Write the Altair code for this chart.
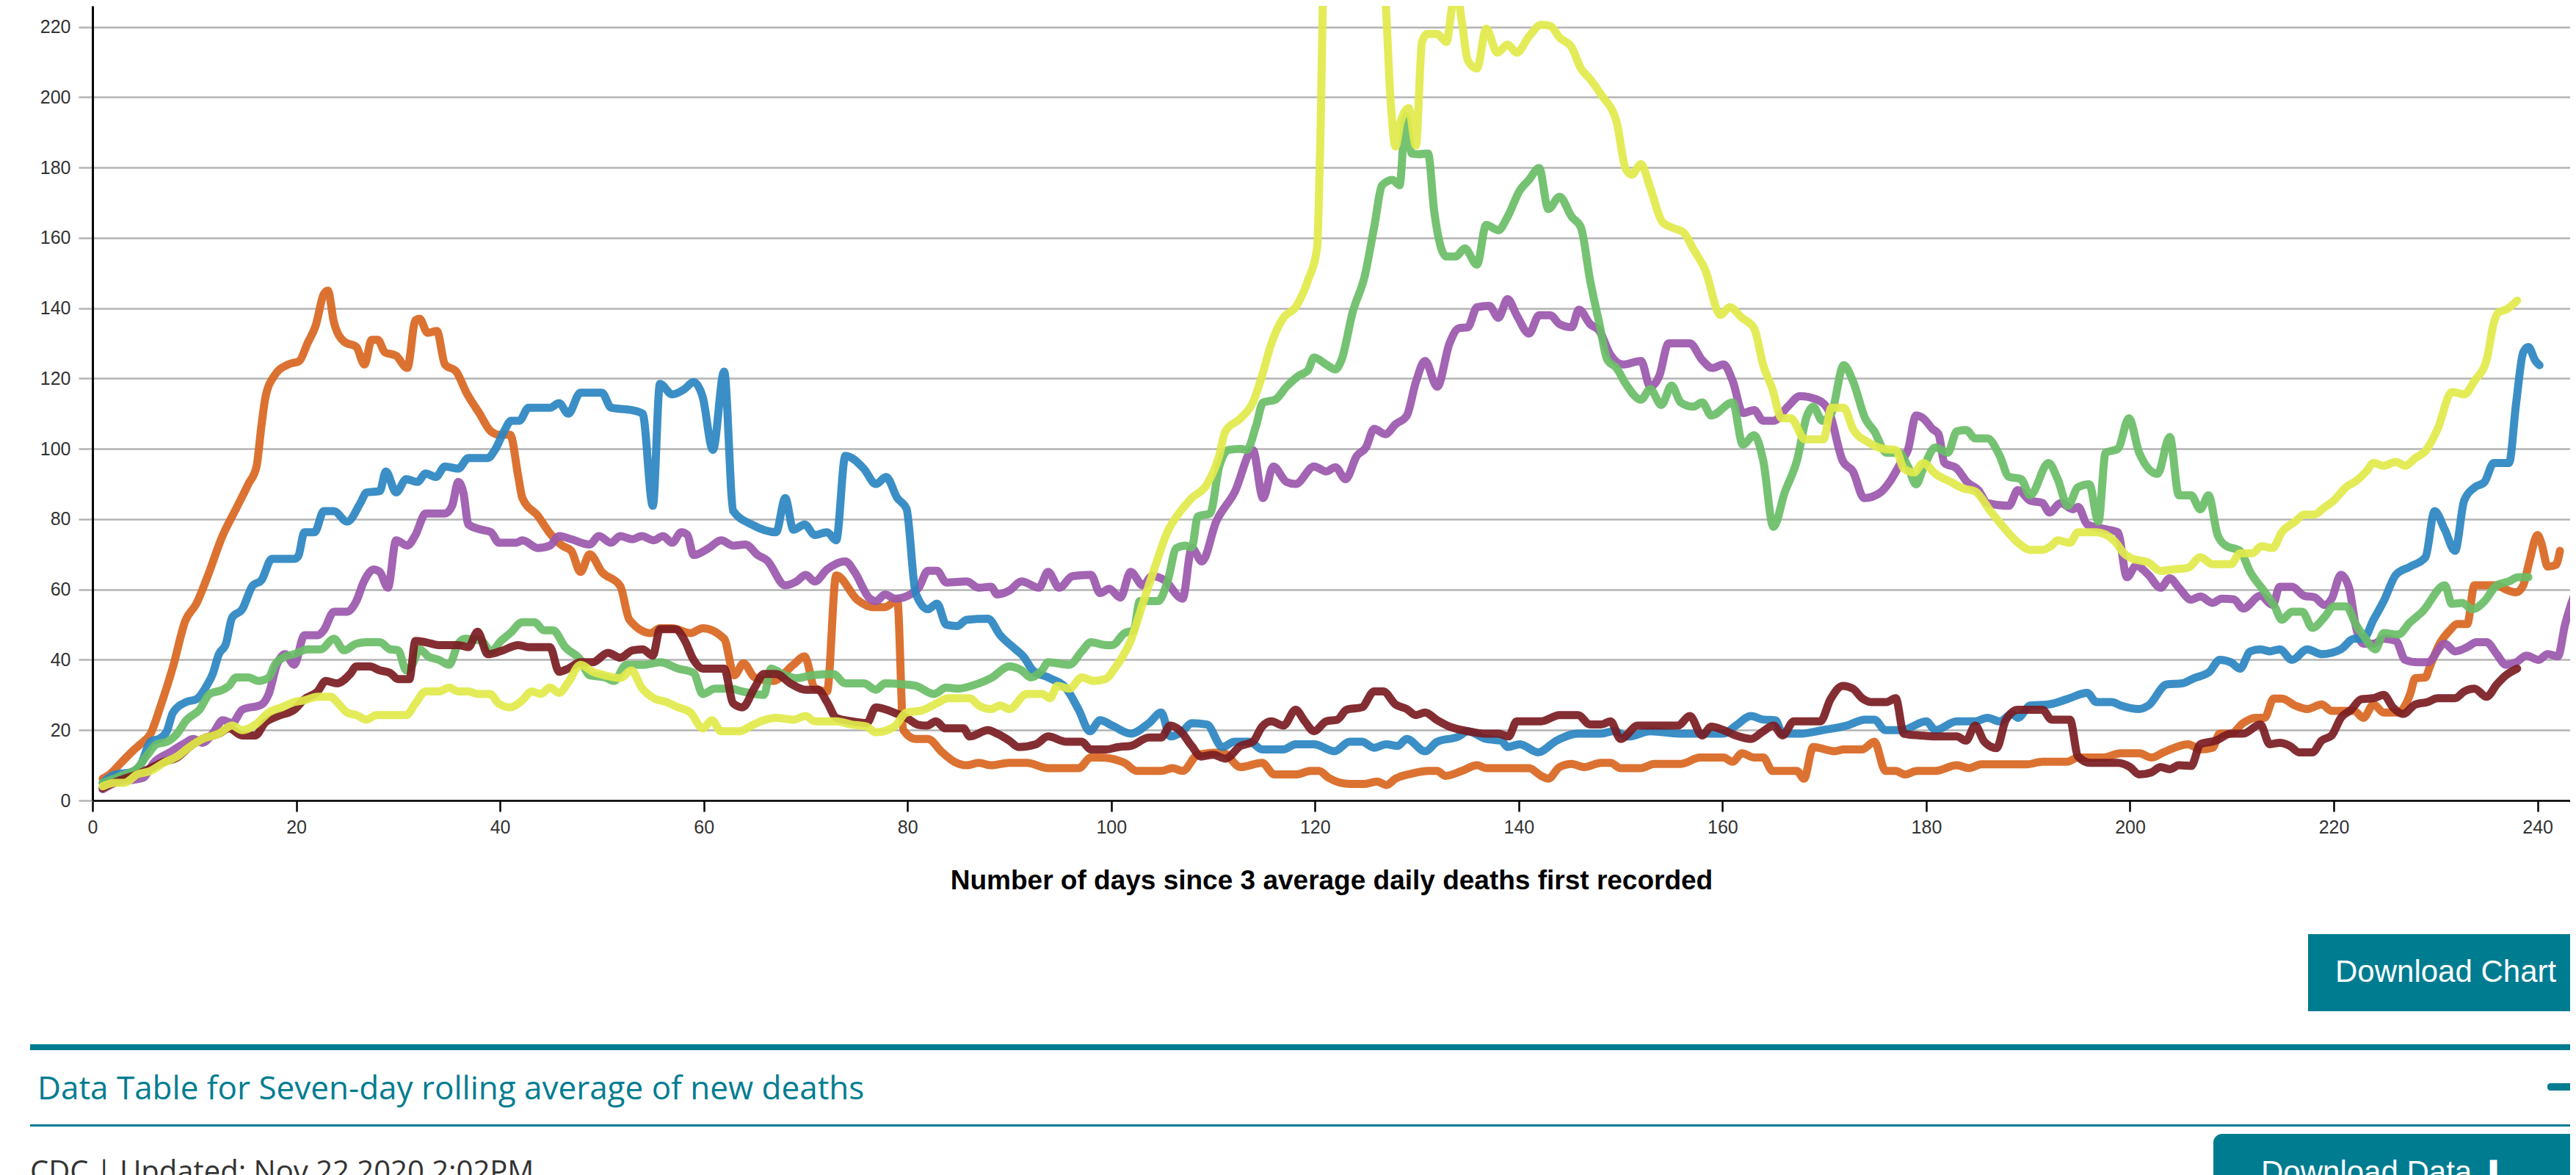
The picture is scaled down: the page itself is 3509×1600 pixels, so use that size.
import altair as alt
import pandas as pd

# ---------------- data (day, seven-day average of new deaths) ----------------
BLUE = [(1,5),(2.2,7.4),(3.8,8),(4.7,10),(5.7,16.7),(6.7,17.8),(7.3,19.7),(7.9,25),(9.2,28),(10.2,28.8),
 (11.2,32.6),(11.8,36),(12.4,41.6),(13.1,44.6),(13.7,52),(14.7,54.4),(15.7,61),(16.6,62.7),(17.6,68.7),(19.8,68.7),
 (20.2,69.5),(20.8,76.3),(21.8,76.3),(22.7,82.3),(23.7,82.3),(25,79.3),(26.3,84.6),(26.9,87.6),(28.2,88),(28.8,93.6),
 (29.8,87.6),(30.8,91.4),(31.9,90.6),(32.7,93),(33.7,92),(34.6,95),(35.9,94.4),(36.9,97.4),(38.8,97.4),(39.5,99.7),
 (40.4,105),(41.1,108),(41.9,108),(42.8,111.7),(44.9,111.7),(45.8,113),(46.7,110),(47.9,116),(50,116),(50.9,111.7),
 (53,111),(54,110),(55,83.8),(55.7,118.5),(56.9,115.5),(58.1,117),(59,119),(59.9,114.7),(60.9,99.7),(62,122),
 (62.9,82.3),(64.7,78.5),(67.1,76.3),(68,86),(68.8,77),(69.9,78.5),(70.9,75.5),(72.1,76.3),(73,74),(73.9,98),
 (75.7,94.4),(76.9,90),(77.9,92),(79,86),(79.9,83),(80.8,59),(82,54.4),(82.9,56),(83.8,50),(84.9,49.6),
 (85.8,51.4),(87.9,51.7),(89.1,47),(90.6,43),(91.4,40.9),(92.3,37),(93.8,35),(95.6,31.8),(96.8,25.8),(97.9,19.7),
 (98.9,22.8),(100.1,21.3),(101.9,19),(103.7,22),(104.9,25),(105.8,18.2),(107,19.7),(107.9,22),(109.4,21.6),(110.9,15.2),
 (112.1,16.7),(113.6,16.7),(114.8,14.5),(116.9,14.5),(118.1,16),(119.9,16),(121.9,14),(123.4,16.7),(124.6,16.7),(125.8,15),
 (127,16),(128.1,15.5),(129,17.5),(130.8,14),(132,16.7),(134.1,18.2),(135,19.7),(136.8,17.5),(138.3,17),(138.9,15.2),
 (140.1,16),(141.9,13.7),(143.7,17),(145.8,19),(148.1,19),(149.3,19.7),(150.8,18.2),(152.9,19.7),(155.9,19),(158.3,19),
 (160.1,19),(161.3,21.3),(162.8,24),(164,23),(165.2,22.8),(165.9,19),(167.6,19),(169.8,20),(172.2,21.3),(174,23),
 (174.9,23),(176,20),(177.6,20),(180,22.5),(180.9,20),(183,22.5),(184.8,22.5),(186,23.5),(187.2,22.5),(188.4,24.6),
 (189,23.5),(190.2,27),(192,27.3),(193.8,28.8),(195.8,30.6),(196.7,28),(198.2,28),(199.1,27),(200.9,26),(201.8,27),
 (203.6,33),(205.1,33.3),(206.3,34.8),(207.8,36.6),(208.8,40),(209.9,39.3),(210.8,37.5),(211.8,42.4),(212.8,43),(213.7,42.4),
 (214.7,43),(215.9,40),(217.4,43),(218.8,41.6),(220.7,43),(222,46),(222.9,46),(223.9,51.4),(224.9,56.7),(226.1,64.2),
 (227.5,66.5),(229,69.2),(229.9,82.3),(230.9,77),(231.9,71),(232.8,85.3),(233.8,89),(234.8,90.6),(235.7,96),(237.2,96),
 (237.9,113),(238.6,127.5),(239.1,129),(239.8,125),(240.2,123.8)]

ORANGE = [(1,6.2),(1.8,7.7),(2.8,10.7),(4.1,14.5),(4.7,16),(5.7,19),(6.7,27),(7.9,38),(9.1,51),(10.2,56),
 (11.2,63),(12.8,75.5),(14.1,83),(15.3,90),(16.1,95),(16.6,107),(17,115),(17.9,121),(19.2,124),(20.3,125),
 (21.1,130),(21.9,135),(22.7,144),(23.1,145),(23.7,136),(24.7,130.5),(25.9,129),(26.7,124),(27.4,131),(28,131),
 (28.7,127.5),(29.8,126.5),(30.9,123),(31.7,136.6),(32.1,137),(32.9,133),(33.8,133.5),(34.6,124),(35.7,122),(36.7,116),
 (38,110),(39.1,105),(40,104),(41,104),(41.8,92),(42.2,86),(43.7,81),(44.9,76),(46.1,72.5),(47,71),
 (47.9,65),(48.8,70),(50,65),(51.8,61),(52.7,51.4),(54.8,47.6),(55.7,49),(56.9,49),(58.7,47.6),(59.9,49),
 (62,46),(63,35.6),(63.9,39),(65,35),(66.8,34),(68.8,38.6),(69.9,41),(70.9,32),(72.1,31),(73,64),
 (75.1,57),(76.6,55),(77.8,55),(79,57),(79.6,20),(80.8,17.5),(82,17.5),(83.4,13.7),(84.6,11),(85.8,10),
 (87,10.7),(88.2,10),(90,10.7),(91.7,10.7),(93.8,9.2),(96.8,9.2),(98,12.2),(98.9,12.2),(101.3,10.7),(102.5,8.4),
 (104.9,8.4),(106,9.2),(107,8.4),(108.5,13),(110.9,13.7),(112.7,9.5),(114.8,10.7),(116,7.4),(118.1,7.4),(119.6,8.4),
 (120.4,8.4),(121.3,6.5),(123.4,4.7),(124.9,4.7),(126.1,5.4),(127,4.4),(127.9,6.2),(129.6,7.7),(131.1,8.4),(132,8.4),
 (132.8,7),(134.4,8.4),(135.9,10),(136.8,9.2),(139.2,9.2),(141,9.2),(142.2,7),(142.9,6.2),(144,9.5),(145.2,10.4),
 (146.4,9.5),(148.1,10.7),(149,10.7),(150,9.2),(152,9.2),(153.3,10.4),(155.9,10.4),(157.8,12.2),(160.1,12.2),(161,11),
 (161.9,13.4),(163.1,12.2),(164,12.2),(164.9,8.4),(167.3,8.4),(168,6.2),(168.9,15.2),(171,14),(171.9,14.5),(173.7,14.5),
 (174.9,16.7),(176,8.4),(177,8.4),(177.9,7.4),(179.1,8.4),(180.9,8.4),(183,10),(184.2,9.2),(185.4,10.3),(189.9,10.3),
 (191.4,11),(193.8,11),(194.9,12.2),(197.3,12.2),(199.1,13.4),(200.9,13.4),(202.1,12.2),(203.3,13.7),(205.7,16),(206.9,14.5),
 (208.1,15),(208.8,19),(209.9,19),(211.1,22),(212.3,23.5),(213.2,23.5),(214.1,29),(214.9,29),(216.2,27),(217.4,26),
 (218.8,27.3),(219.8,25.5),(222,25.5),(222.9,23.5),(223.9,27.3),(224.9,25),(226.3,25),(227.5,30.3),(228,34.8),(229,35),
 (229.4,37.8),(230.4,44.6),(231.4,48.4),(232.1,50.2),(233.1,50.2),(233.8,61.2),(236,61.2),(236.9,60),(237.9,59.2),(238.6,61.2),
 (239.2,68),(240,75.5),(240.4,73),(241,66.5),(241.8,67),(242.2,71)]

PURPLE = [(1,3.2),(2.2,5),(5,6.5),(6,10.7),(7.6,13.7),(8.9,16),(9.9,17.5),(10.8,16.4),(11.8,19),(12.8,22.8),
 (13.7,22),(14.7,25.8),(16.6,27.3),(17.3,30.3),(18.1,38.6),(18.9,41.6),(19.8,38.6),(20.8,47),(22.1,47),(22.7,48.4),
 (23.7,53.7),(25,53.7),(25.9,56.7),(26.6,62),(27.6,65.7),(28.2,65),(29,60.5),(29.8,74),(30.9,72.5),(31.7,75.5),
 (32.7,81.6),(34.6,81.6),(35.3,83.8),(35.9,90.6),(36.4,87.6),(36.9,78.5),(38.2,77),(39.1,76.3),(39.9,73.3),(41.6,73.3),
 (42.2,74),(43.7,71.8),(44.9,72.5),(45.8,75.2),(47,74.3),(48.8,72.8),(49.7,75.2),(50.9,73.3),(51.8,75.2),(53,74.3),
 (53.9,75.2),(55.1,74),(56,75.2),(56.9,73.3),(57.8,76.3),(58.4,75.5),(59,69.8),(60.5,71.8),(61.7,74),(62.9,72.5),
 (64.1,72.8),(65.3,69.8),(66.2,68.3),(68,61.2),(69.1,62.3),(70,64.2),(70.9,62.3),(72.1,65.7),(73.9,68),(74.8,65),
 (76.3,57.4),(76.9,56.7),(77.8,58.6),(78.8,57.4),(80.5,59),(81.1,60.5),(82,65.3),(82.9,65.3),(83.8,62),(85.8,62.3),
 (87,60.5),(88.2,60.8),(88.8,58.6),(90,59.7),(91.2,62.3),(92.9,60.5),(93.8,65),(94.9,60.5),(96.2,63.8),(98,64.2),
 (98.9,59),(99.8,60.2),(100.9,57.7),(101.9,65),(103.1,61.2),(104,63.8),(105.2,62.7),(107,57.4),(107.9,71.8),(108.9,68),
 (110.3,79.3),(112.1,87.6),(113.9,99.7),(114.9,86),(115.9,95),(117.2,90.6),(118.1,90),(119.9,95),(121.1,93.6),(122,94.8),
 (123,91.4),(124.1,98),(125,100.4),(125.8,105.7),(126.9,104.2),(127.9,107),(129,109.4),(129.9,119),(130.8,125),(132,117.7),
 (133.2,130),(134.1,134.3),(135,134.6),(135.9,140.3),(137.1,140.7),(138,137.3),(138.9,142.6),(139.8,138),(141,132.8),(142,138),
 (143.1,138),(144,135.5),(145.2,134.6),(145.9,139.6),(147,135.5),(147.9,133.6),(149,126.8),(150.2,124),(152,125),(152.9,117.7),
 (153.8,120.8),(154.7,130),(156.8,130),(158,125.3),(159,123),(160.1,124),(161,119.3),(162,110.2),(163.1,111),(164,108),
 (165,108),(166.4,112),(167.6,115),(169.3,114),(170.4,111),(171.8,96.6),(172.8,93.6),(173.9,86),(175.5,87.6),(176.4,90.6),
 (177.6,96.6),(178.2,99.7),(179,109.5),(179.7,108.7),(180.6,105.7),(181.2,104.2),(181.8,96),(183,94.4),(184,90.6),(185.1,88.3),
 (186,84.6),(188.1,83.8),(189,88.3),(190.2,85.3),(191.4,84.6),(192.1,81.9),(193.2,84.6),(194.4,82.8),(194.9,83.5),(195.8,78.5),
 (197.3,77.3),(198.8,76.3),(199.7,63.5),(200.6,66.8),(201.8,64.2),(203,60.5),(203.9,63.2),(204.8,60.5),(206,57.1),(206.9,58),
 (208.1,56.2),(209,57.4),(210.2,57.2),(211.1,54.6),(212.8,58.2),(214,55.6),(214.7,60.8),(215.9,60.8),(217.1,58.2),(218.1,57.8),
 (219.1,55.6),(219.8,57.4),(220.7,64.2),(221.5,60.5),(222.2,49.1),(222.9,44.6),(223.9,44.6),(224.9,46),(226.1,45.4),(227,40),
 (228.2,39.3),(229.2,39.3),(230.9,44.6),(231.9,42.4),(233.1,43.6),(234,45),(235,45),(236,41.6),(236.9,38.6),(237.9,39.3),
 (238.9,41.2),(240.1,40),(241,41.6),(242,41),(242.7,50),(243.8,60),(245,68)]

GREEN = [(1,5),(2.8,7),(4.4,9.2),(5.4,13),(6.3,16),(7.3,16.7),(8.3,19),(9.2,22.8),(10.5,25.8),(11.5,30.3),
 (12.8,31.5),(13.4,32.6),(14.1,35),(15.3,35),(16.3,34),(17.3,35),(17.9,38.6),(18.9,40.9),(19.8,41.6),(21.1,43),
 (22.4,43),(23.7,46),(24.7,42.7),(25.9,44.6),(26.9,45),(28.2,45),(29.2,43),(30,42.7),(30.8,37),(31.4,38.6),
 (32.1,43),(33,40.9),(34,40),(35,38.6),(35.9,44.6),(36.6,46),(38.2,45.4),(39.1,42.4),(40.1,45.4),(41,47.6),
 (42.2,50.7),(43.4,50.7),(44.3,48.4),(45.2,48.4),(46.4,43.6),(47.9,40),(48.8,35.6),(50.3,35),(51.2,34),(52.4,38.6),
 (54.2,38.6),(55.7,39.3),(57.5,37.5),(59,36.3),(59.9,30.3),(61.1,31.8),(62.6,31.8),(63.8,31),(65.9,30),(66.6,37.5),
 (67.7,36),(69.1,34.8),(70.6,35.6),(72.7,36),(73.9,33.3),(75.7,33.3),(76.9,31.5),(77.8,33.3),(79.6,33),(80.8,32.6),
 (82.6,30.3),(83.8,32.1),(84.9,31.8),(87,33.3),(88.2,34.8),(90,38.1),(91.2,37),(92.1,35),(93.2,37),(93.8,39.3),
 (95.9,38.6),(97.1,42.4),(98,45),(99.5,44.2),(100.1,44.2),(101.3,47.6),(102.2,48.4),(102.8,56.7),(104.6,56.7),(105.5,62),
 (106.4,71.8),(107.3,72.5),(107.9,72),(108.5,80.8),(109.7,81.6),(110.6,95),(111.5,99.7),(112.7,100),(113.3,99.7),(114.2,106.4),
 (114.9,113.2),(116.1,114),(117.2,117.7),(118.4,120.8),(119.3,122.3),(119.9,126),(121.1,124),(122,122.6),(122.6,125.3),(123.7,138.9),
 (124.9,149.4),(125.8,163),(126.6,175),(127.6,176.5),(128.3,175),(128.9,194.6),(129.5,184),(130.2,183.8),(131.1,184),(131.7,167.5),
 (132.9,154.7),(133.8,154.7),(134.7,157),(135.9,152.4),(136.8,163.7),(138,162.2),(138.9,166),(140.1,173.5),(141,176.5),(142,179.9),
 (142.9,168.2),(144,171.7),(145.2,166),(146.1,163),(147,148),(147.9,135.8),(148.7,125.3),(149.6,123),(150.5,118.5),(152,114),
 (152.9,117),(154,112.5),(155,118),(155.9,113.2),(157.1,112),(158,113.2),(158.9,109.5),(161,113.2),(162,101.2),(163.1,103.9),
 (164,96.6),(165,77.8),(166.1,87.6),(167.3,96.6),(168.3,109.5),(168.9,112),(169.8,108),(170.7,110.2),(171.9,123.8),(172.8,119.3),
 (174,108.7),(174.9,105),(176.1,98.9),(177.3,98.9),(178.2,95),(179,89.9),(179.7,94.4),(180.9,100.4),(182.1,98.9),(183,105),
 (183.9,105.4),(184.8,103),(186,103),(187.2,98.1),(188.1,92.1),(189.3,91.4),(190.2,86.8),(192,96),(192.9,91.4),(193.9,83.8),
 (194.9,89.1),(196,89.9),(196.9,79.3),(197.6,98.9),(198.8,100),(199.9,108.7),(200.9,98.9),(202.7,92.9),(203.9,103.4),(204.8,86.8),
 (206,86.8),(206.9,82.8),(207.7,86.8),(208.6,75.5),(209.4,72.5),(210.8,71),(211.8,65),(213.3,59),(214.2,55.2),(214.9,51.4),
 (215.9,53.7),(216.9,53.7),(217.9,49.1),(219.1,52.2),(220,55.2),(221.2,55.2),(222.2,49.9),(222.9,46.9),(224.1,43),(224.9,47.6),
 (226.3,47.2),(227.5,50.7),(228.7,53.7),(230.9,61.2),(231.6,55.9),(232.6,56.2),(233.6,54.4),(234.8,56.7),(236,61.2),(237.2,62.3),
 (238.1,63.5),(239.1,63.5)]

DARKRED = [(1,3.5),(1.8,4.7),(3.1,6.2),(4.4,7.4),(5.7,9.2),(7,11),(8.3,12.2),(9.5,15.2),(10.8,17.5),(12.4,19),
 (13.4,20.5),(14.7,18.5),(16,18.5),(16.9,22),(18.2,24),(19.8,25.8),(20.8,28.8),(22.1,31),(22.9,34),(24,33.3),
 (25.3,36),(25.9,38.1),(27.2,38.1),(28.2,37),(29.2,36.3),(30,34.5),(31.1,34.5),(31.7,45.4),(32.7,45),(34,44.2),
 (35.9,44.2),(36.9,43.6),(37.8,48),(38.8,41.6),(40.1,42.5),(41.8,44.2),(42.8,43.6),(44.9,43.6),(45.8,36.6),(46.7,37.5),
 (47.9,39.3),(49.1,39.3),(50.6,42),(51.8,40.6),(53,42.7),(54,43),(55,41.2),(55.7,48.7),(57.2,48.7),(58.1,45.7),
 (59,40),(59.9,37.5),(62,37.5),(62.9,27.6),(63.8,26.5),(65,32.1),(65.9,36),(67.1,36),(68.5,33.3),(70,31.5),
 (71.2,31.5),(72.1,28),(73,23.5),(74.5,22.5),(76,22),(76.9,26.5),(79,24.6),(79.9,23.5),(81.1,21.5),(81.9,21.3),
 (82.8,22.5),(83.7,20.5),(85.5,20.5),(86.1,18.2),(87.9,20),(88.8,19),(90,17),(90.9,15.2),(92.6,16),(93.8,18.2),
 (95.6,16.7),(97.1,16.7),(98,14.5),(99.5,14.5),(100.7,15.2),(101.9,15.5),(103.7,17.9),(104.9,17.9),(105.8,21.3),(106.7,20),
 (107.9,15.5),(108.8,12.5),(110,13),(111.2,11.9),(112.7,15.5),(113.9,16.7),(114.8,21),(115.7,22.5),(116.9,21.3),(118.1,25.8),
 (119,22.5),(119.9,19.7),(121.1,22.5),(122.2,23),(123.1,25.8),(124.6,26.5),(125.8,31),(126.7,31),(127.9,27.3),(129,26),
 (129.9,24.3),(130.8,25),(132,22.8),(133.2,21),(135,19.7),(136.8,19),(138,19),(139,18.2),(139.8,22.5),(142.2,22.5),
 (144,24.3),(145.8,24.3),(147,21.6),(148.1,21.6),(149,22.5),(150,17.5),(151.7,21.3),(155.6,21.3),(156.8,24),(158,18.5),
 (158.9,21),(160.1,20),(161.3,18.5),(162.8,17.5),(164,19.7),(165,21.3),(165.9,18.5),(167,22.5),(169.6,22.5),(170.6,28.8),
 (171.8,32.6),(172.8,31.8),(173.7,29.1),(174.6,28),(176.1,28),(177,29.1),(177.8,19),(179.4,18.5),(180.9,18.2),(183,18.2),
 (183.9,17),(184.8,21.3),(185.7,16.7),(186.9,14.9),(187.8,22.8),(189,25.8),(191.4,25.8),(192.3,23),(194.1,23),(194.9,12.5),
 (196.1,10.7),(198.8,10.7),(200,9.5),(200.9,7.4),(202.1,8),(203,9.5),(203.9,8.9),(204.8,10),(206,9.8),(206.9,16),
 (208.4,17),(209.9,19),(211.1,19),(212.8,21.6),(213.7,16),(214.7,16.4),(215.7,15.5),(216.6,13.7),(217.9,13.7),(218.8,17),
 (219.8,18.5),(220.7,23.5),(221.7,25.8),(222.7,28.8),(223.9,29.1),(224.9,30),(225.8,26.5),(226.8,24.6),(228,27.3),(229.2,28),
 (230.2,29.1),(231.9,29.1),(232.8,31),(233.8,31.8),(235,29.5),(236,33),(236.9,35.6),(238,37.5)]

YELLOW = [(1,4),(2.2,5),(3.1,5),(4.4,7.4),(5.7,8.4),(7,10.7),(8.3,12.5),(9.5,15.2),(10.8,17.5),(12.4,19),
 (13.7,21.3),(14.7,20),(16,21.6),(17.3,25),(18.6,26.5),(19.8,28),(20.8,28.5),(22.1,29.5),(23.4,29.5),(24,28),
 (25,25),(25.9,24.3),(26.9,23),(27.9,24.3),(30.8,24.3),(31.7,27.6),(32.7,31),(34,31),(35,32.1),(35.9,31),
 (36.9,31),(37.8,30.3),(39,30.3),(39.9,27.5),(41,26.5),(42.2,28.5),(43.1,31),(44,30.3),(44.9,32.1),(45.8,30.6),
 (46.7,33.6),(47.9,38.6),(49.1,36.6),(50.3,35.6),(51.8,34.8),(52.9,37),(53.9,32.1),(55.1,29.1),(56.3,28),(57.5,26.5),
 (58.7,25),(59.9,20.5),(60.8,22.8),(61.7,19.7),(63.5,19.7),(64.7,21.3),(65.9,22.8),(67.1,23.5),(68.8,23),(70,24),
 (70.9,22.5),(73,22.5),(74.5,21.6),(76,21),(76.9,19.4),(78.7,21),(79.9,25),(81.3,25.5),(82.8,27.5),(84,29.1),
 (86.1,29.1),(87,27),(88.2,26),(89.1,27),(90,26),(91.7,30.3),(93.2,30.3),(94,29.1),(94.7,32.6),(95.9,31.8),
 (97.1,35),(98.3,34),(99.4,34.5),(100.4,37.8),(101.9,45.4),(103.1,56),(104.3,66.5),(105.5,76.3),(106.7,81.9),(107.9,86),
 (109.4,89.9),(110.6,98.1),(111.2,105),(112.7,108.7),(113.9,113.2),(114.8,120.8),(115.7,129.8),(116.9,137.3),(118.1,140.3),(119.3,147.9),
 (120.2,157),(120.5,185),(120.9,240),(122,258),(123.5,265),(125,258),(126.2,240),(126.9,228),(127.4,200),(127.9,186),
 (128.4,193),(129.2,196.9),(129.9,186.3),(130.5,215.7),(131,218),(132,218),(132.9,215.7),(133.4,224.8),(133.8,232),(134.4,221.8),
 (135,210.5),(135.9,208.2),(136.8,219.5),(137.9,212.7),(138.9,215),(139.8,212.7),(141,217.3),(142.2,220.6),(143.1,220.3),(144,217),
 (145.2,214.2),(146.1,208.2),(147,205.2),(148.1,200.7),(149.6,193),(150.5,179.6),(151.1,178),(152,181),(152.9,174.3),(154.1,164.5),
 (155,163),(156.2,161.5),(157.1,157),(158.3,150.9),(159.8,138.1),(160.7,140.3),(161.9,137.3),(163.1,134.3),(164,123.8),(164.9,117),
 (165.8,108.7),(166.7,108.7),(168.1,102.7),(169.9,102.7),(170.7,111.7),(171.9,111.7),(172.8,105.7),(174.3,101.9),(175.8,100),(177,99.7),
 (177.8,94.4),(178.8,93.3),(179.7,96),(180.9,92.9),(182.4,90.6),(183.6,88.8),(184.8,87.9),(186.3,82.3),(187.8,77),(189,73.3),
 (190.2,71.3),(191.4,71.3),(192.3,72.5),(192.9,74),(194.1,73.3),(194.9,76.3),(196.7,76.3),(198.5,73.7),(199.4,70.3),(200.3,68.7),
 (201.8,67.7),(203,65.3),(204.2,65.7),(205.7,66.2),(206.9,69.2),(208.1,67.2),(209.9,67.2),(210.8,70.3),(212,70.3),(212.9,72.3),
 (214,71.8),(214.9,76.3),(216.2,79.3),(217.1,81.3),(218.1,81.3),(219.1,83.4),(220,85.3),(221.2,89.1),(222.2,90.9),(223.2,93.6),
 (223.9,96),(224.9,95.2),(226.1,96.3),(227,95.2),(228,97.4),(229,99.4),(230.2,105.7),(231.6,116.2),(232.8,115.5),(233.8,119.3),
 (235,125.3),(235.7,135.8),(236.2,138.9),(236.9,139.6),(238,142.2)]

# drawing order (bottom -> top) and colours
SERIES = [("orange", ORANGE, "#d9661f"),
          ("purple", PURPLE, "#9a57ad"),
          ("blue", BLUE, "#2a86c1"),
          ("green", GREEN, "#69bd67"),
          ("darkred", DARKRED, "#7a1c22"),
          ("yellow", YELLOW, "#e1ea4a")]

X_TICKS = list(range(0, 241, 20))
Y_TICKS = list(range(0, 221, 20))
X_TITLE = "Number of days since 3 average daily deaths first recorded"
TEAL = "#007c91"

W, H = 3375, 1082
xscale = alt.Scale(domain=[0, 243.2], nice=False, zero=False)
yscale = alt.Scale(domain=[0, 226.0], nice=False, zero=True)

x_axis = alt.Axis(values=X_TICKS, title=X_TITLE, grid=False,
                  titleFont="Liberation Sans", titleFontSize=37, titleFontWeight="bold",
                  titleColor="#000000", titleY=120, titleBaseline="alphabetic",
                  labelFont="Liberation Sans", labelFontSize=25, labelColor="#333333",
                  labelPadding=9, tickSize=15, tickColor="#000000", tickWidth=2.5,
                  domainColor="#000000", domainWidth=2.5, labelFlush=False)
y_axis = alt.Axis(values=Y_TICKS, title="", grid=True, gridColor="#b3b3b3", gridWidth=2.5,
                  labelFont="Liberation Sans", labelFontSize=25, labelColor="#333333",
                  labelPadding=11, tickSize=19, tickColor="#b3b3b3", tickWidth=2.5,
                  domainColor="#000000", domainWidth=3)

layers = []
for i, (name, pts, col) in enumerate(SERIES):
    df = pd.DataFrame({"day": [p[0] for p in pts], "value": [p[1] for p in pts]})
    layer = alt.Chart(df).mark_line(
        interpolate="monotone", strokeWidth=11, strokeCap="round", strokeJoin="round",
        color=col, opacity=0.92, clip=True
    ).encode(
        x=alt.X("day:Q", scale=xscale, axis=x_axis),
        y=alt.Y("value:Q", scale=yscale, axis=y_axis),
        order="day:Q",
    )
    layers.append(layer)

# ---------------- page furniture below the chart ----------------
one = pd.DataFrame({"k": [0]})

def rect(x1, x2, y1, y2, color, radius=0):
    return alt.Chart(one).mark_rect(color=color, cornerRadius=radius).encode(
        x=alt.value(x1), x2=alt.value(x2), y=alt.value(y1), y2=alt.value(y2))

def text(x, y, s, size, color, font, weight="normal"):
    return alt.Chart(one).mark_text(text=s, align="left", baseline="alphabetic",
                                    fontSize=size, color=color, font=font,
                                    fontWeight=weight).encode(
        x=alt.value(x), y=alt.value(y))

deco = [
    rect(3018, 3375, 1264, 1369, TEAL),
    text(3055, 1329, "Download Chart", 42, "#ffffff", "Liberation Sans"),
    rect(-85, 3375, 1414, 1422, TEAL),
    text(-75, 1489, "Data Table for Seven-day rolling average of new deaths", 44, TEAL, "Open Sans"),
    rect(3344, 3380, 1467, 1477, TEAL, 4),
    rect(-85, 3375, 1523, 1526, TEAL),
    text(-85, 1601, "CDC | Updated: Nov 22 2020 2:02PM", 40, "#333333", "Open Sans"),
    rect(2889, 3390, 1536, 1640, TEAL, 12),
    text(2954, 1602, "Download Data \u2b07", 42, "#ffffff", "Liberation Sans, DejaVu Sans"),
]

chart = alt.layer(*layers, *deco).properties(
    width=W, height=H,
    padding={"left": 118, "top": 0, "right": 0, "bottom": 510},
    autosize=alt.AutoSizeParams(type="none"),
    background="#ffffff",
).configure_view(stroke=None)

chart.save("out.html", embed_options={"renderer": "svg", "actions": False})
